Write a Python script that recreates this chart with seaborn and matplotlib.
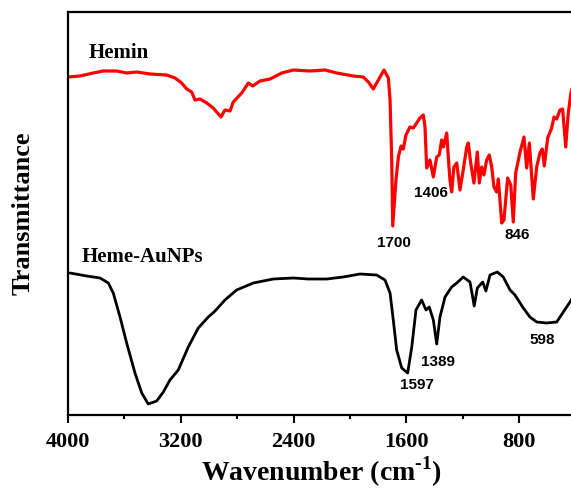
import numpy as np
import pandas as pd
import matplotlib
matplotlib.use("Agg")
import matplotlib.pyplot as plt
import seaborn as sns
from matplotlib.ticker import MultipleLocator

# ---- data (wavenumber in cm^-1, transmittance in arbitrary offset units) ----
hemin_wn = [3998, 3915, 3821, 3750, 3655, 3584, 3513, 3418, 3300, 3241, 3194, 3158,
            3123, 3099, 3064, 3016, 2970, 2915, 2887, 2851, 2828, 2768, 2721, 2690,
            2638, 2567, 2484, 2402, 2284, 2177, 2094, 1977, 1906, 1870, 1835, 1799,
            1759, 1728, 1716, 1704, 1697, 1674, 1657, 1638, 1622, 1603, 1575, 1551,
            1532, 1504, 1480, 1468, 1456, 1433, 1409, 1385, 1367, 1350, 1338, 1314,
            1303, 1291, 1279, 1263, 1243, 1220, 1197, 1172, 1161, 1144, 1121, 1097,
            1083, 1066, 1050, 1031, 1012, 995, 979, 960, 948, 924, 908, 882, 860,
            842, 825, 794, 766, 747, 728, 700, 676, 653, 636, 622, 598, 570, 553,
            534, 511, 492, 470, 452, 433, 400]
hemin_t = [338, 339, 342, 344, 344, 342, 343, 341, 340, 337, 332, 326,
           323, 315, 316, 312, 307, 298, 305, 304, 313, 322, 332, 329,
           334, 336, 342, 345, 344, 345, 342, 339, 338, 333, 326, 335,
           345, 337, 315, 255, 189, 235, 258, 269, 266, 280, 288, 287,
           291, 297, 300, 288, 247, 255, 238, 258, 260, 275, 268, 282,
           258, 235, 223, 248, 252, 225, 245, 268, 272, 252, 232, 263,
           232, 248, 240, 255, 260, 248, 228, 223, 236, 192, 195, 237, 230,
           193, 242, 263, 278, 247, 272, 216, 248, 262, 266, 249, 277, 287, 298,
           296, 305, 306, 268, 302, 322, 340]

heme_au_wn = [3986, 3867, 3773, 3714, 3679, 3631, 3584, 3525, 3477, 3431, 3371, 3324,
              3277, 3218, 3147, 3076, 3005, 2957, 2887, 2804, 2686, 2544, 2402, 2296,
              2165, 2048, 1929, 1811, 1752, 1716, 1693, 1669, 1633, 1591, 1562, 1532,
              1492, 1461, 1438, 1409, 1385, 1362, 1326, 1279, 1243, 1197, 1149, 1119,
              1097, 1059, 1036, 1007, 955, 913, 865, 830, 771, 724, 676, 605, 534,
              487, 440, 400]
heme_au_t = [142, 139, 137, 132, 122, 98, 72, 42, 22, 11, 14, 23,
             35, 45, 68, 87, 98, 104, 115, 125, 132, 136, 137, 136,
             136, 138, 141, 140, 135, 122, 95, 65, 47, 42, 68, 105,
             115, 105, 108, 95, 71, 98, 118, 128, 132, 138, 133, 109,
             127, 133, 124, 140, 143, 138, 125, 120, 107, 98, 93, 92, 93,
             103, 113, 122]

series_names = ["Hemin", "Heme-AuNPs"]
series_colors = ["#ff0000", "#000000"]

# peak annotations: (label, wavenumber position, transmittance position)
peak_labels = ["1700", "1406", "846", "1597", "1389", "598"]
peak_x = [1688, 1426, 812, 1527, 1377, 638]
peak_y = [172, 222, 180, 30, 53, 75]

name_x = [3851, 3903]
name_y = [362, 158]

xticks = [4000, 3200, 2400, 1600, 800]

# ---- build table ----
df = pd.concat([
    pd.DataFrame({"wn": hemin_wn, "T": hemin_t, "sample": series_names[0]}),
    pd.DataFrame({"wn": heme_au_wn, "T": heme_au_t, "sample": series_names[1]}),
], ignore_index=True)

sns.set_style("white")
plt.rcParams["font.family"] = ["Liberation Serif", "DejaVu Serif"]
plt.rcParams["text.color"] = "black"
plt.rcParams["axes.labelcolor"] = "black"
plt.rcParams["xtick.color"] = "black"
plt.rcParams["ytick.color"] = "black"
plt.rcParams["mathtext.fontset"] = "custom"
plt.rcParams["mathtext.rm"] = "Liberation Serif:bold"
plt.rcParams["mathtext.bf"] = "Liberation Serif:bold"

fig = plt.figure(figsize=(5.71, 4.88), dpi=100)
ax = fig.add_axes([68 / 571, 73 / 488, 507.6 / 571, 403 / 488])

sns.lineplot(data=df, x="wn", y="T", hue="sample", palette=dict(zip(series_names, series_colors)),
             sort=False, estimator=None, legend=False, ax=ax)
for line, lw in zip(ax.lines, [2.3, 2.0]):
    line.set_linewidth(lw)
    line.set_solid_joinstyle("round")

ax.set_xlim(4000, 400)
ax.set_ylim(0, 403)
ax.set_xticks(xticks)
ax.set_xticklabels([str(t) for t in xticks])
ax.xaxis.set_minor_locator(MultipleLocator(400))
ax.set_yticks([])
ax.tick_params(axis="x", which="major", direction="out", length=6, width=1.5,
               pad=6, labelsize=16, bottom=True, top=False, colors="black")
ax.tick_params(axis="x", which="minor", direction="out", length=3, width=1.5,
               bottom=True, top=False, colors="black")
for lab in ax.get_xticklabels():
    lab.set_fontweight("bold")
for s in ax.spines.values():
    s.set_linewidth(1.6)
    s.set_color("black")
ax.spines["right"].set_visible(False)

ax.set_xlabel(r"Wavenumber (cm$^{\text{-1}}$)", fontsize=20, fontweight="bold",
              labelpad=2, color="black")
ax.set_ylabel("Transmittance", fontsize=19, fontweight="bold", labelpad=24, color="black")

for nm, xx, yy in zip(series_names, name_x, name_y):
    ax.text(xx, yy, nm, fontsize=15, fontweight="bold", ha="left", va="center", color="black")

for lab, xx, yy in zip(peak_labels, peak_x, peak_y):
    ax.text(xx, yy, lab, fontsize=11, fontweight="bold", ha="center", va="center",
            family=["Liberation Sans", "DejaVu Sans"], color="black")

fig.savefig("out.png", dpi=100)
